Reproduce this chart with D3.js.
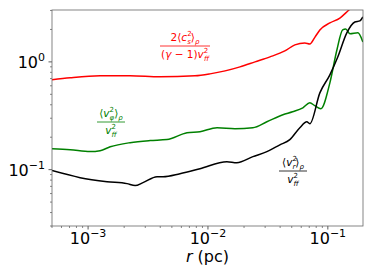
<!DOCTYPE html>
<html>
<head>
<meta charset="utf-8">
<script src="https://cdn.jsdelivr.net/npm/d3@7"></script>
<style>
  body { margin: 0; background: #fff; }
  svg { font-family: "DejaVu Sans", sans-serif; }
</style>
</head>
<body>
<svg id="chart" width="374" height="280"></svg>
<script>
// thermal term 2<cs^2>/((gamma-1) vff^2)
var redR = [5e-4, 7.1e-4, 1.26e-3, 2.24e-3, 3.98e-3, 7.79e-3, 1.04e-2, 1.39e-2, 1.85e-2, 2.47e-2, 3.29e-2, 4.38e-2, 5.31e-2, 6.43e-2, 7.08e-2, 7.79e-2, 8.58e-2, 0.104, 0.126, 0.15, 0.168];
var redV = [0.681, 0.711, 0.742, 0.742, 0.726, 0.742, 0.774, 0.825, 0.899, 1.0, 1.112, 1.264, 1.437, 1.50, 1.468, 1.69, 1.98, 2.30, 2.55, 3.03, 3.37];

// rotational term <v_phi^2>/vff^2
var greenR = [5e-4, 7.1e-4, 1.04e-3, 1.26e-3, 1.53e-3, 2.24e-3, 3.29e-3, 4.55e-3, 6.69e-3, 8.58e-3, 1.19e-2, 1.68e-2, 2.37e-2, 3.1e-2, 4.22e-2, 5.08e-2, 6.19e-2, 7.08e-2, 7.79e-2, 8.74e-2, 0.104, 0.119, 0.133, 0.141, 0.153, 0.178, 0.196];
var greenV = [0.1565, 0.153, 0.147, 0.150, 0.163, 0.178, 0.186, 0.19, 0.22, 0.225, 0.245, 0.24, 0.245, 0.278, 0.323, 0.344, 0.375, 0.417, 0.392, 0.367, 0.639, 1.29, 1.98, 2.02, 1.82, 1.86, 1.53];

// radial term <v_r^2>/vff^2
var blackR = [5e-4, 8.58e-4, 1.44e-3, 2.11e-3, 2.47e-3, 2.87e-3, 3.76e-3, 4.22e-3, 5.84e-3, 8.58e-3, 1.44e-2, 1.74e-2, 2.37e-2, 3.1e-2, 3.98e-2, 4.82e-2, 5.84e-2, 6.68e-2, 7.08e-2, 8.58e-2, 0.104, 0.121, 0.144, 0.168, 0.185, 0.196];
var blackV = [0.098, 0.0843, 0.0774, 0.0742, 0.0711, 0.0758, 0.0861, 0.0861, 0.0918, 0.102, 0.1187, 0.116, 0.132, 0.147, 0.170, 0.19, 0.245, 0.278, 0.267, 0.516, 0.758, 1.11, 1.86, 2.345, 2.4, 2.61];

var xTicks = [1e-3, 1e-2, 1e-1];
var xTickExp = ["\u22123", "\u22122", "\u22121"];
var yTicks = [1e-1, 1];
var yTickExp = ["\u22121", "0"];

var svg = d3.select("#chart");
var margin = { top: 10, right: 11, bottom: 54, left: 52 };
var width = 374 - margin.left - margin.right;
var height = 280 - margin.top - margin.bottom;

var x = d3.scaleLog().domain([5e-4, 0.1965]).range([0, width]);
var y = d3.scaleLog().domain([0.0300, 3.03]).range([height, 0]);

var g = svg.append("g")
  .attr("transform", "translate(" + margin.left + "," + margin.top + ")");

svg.append("defs").append("clipPath").attr("id", "clip")
  .append("rect").attr("width", width).attr("height", height);

// minor ticks
var xMinor = [];
[1e-4, 1e-3, 1e-2, 1e-1].forEach(function (d) {
  for (var k = 2; k <= 9; k++) {
    var v = d * k;
    if (v >= x.domain()[0] && v <= x.domain()[1]) xMinor.push(v);
  }
});
var yMinor = [];
[1e-2, 1e-1, 1].forEach(function (d) {
  for (var k = 2; k <= 9; k++) {
    var v = d * k;
    if (v >= y.domain()[0] && v <= y.domain()[1]) yMinor.push(v);
  }
});

g.selectAll(".xminor").data(xMinor).enter().append("line")
  .attr("x1", d => x(d)).attr("x2", d => x(d))
  .attr("y1", height).attr("y2", height + 2)
  .attr("stroke", "#333").attr("stroke-width", 0.6);
g.selectAll(".yminor").data(yMinor).enter().append("line")
  .attr("y1", d => y(d)).attr("y2", d => y(d))
  .attr("x1", 0).attr("x2", -2)
  .attr("stroke", "#333").attr("stroke-width", 0.6);

g.selectAll(".xmajor").data(xTicks).enter().append("line")
  .attr("x1", d => x(d)).attr("x2", d => x(d))
  .attr("y1", height).attr("y2", height + 3.5)
  .attr("stroke", "#333").attr("stroke-width", 0.8);
g.selectAll(".ymajor").data(yTicks).enter().append("line")
  .attr("y1", d => y(d)).attr("y2", d => y(d))
  .attr("x1", 0).attr("x2", -3.5)
  .attr("stroke", "#333").attr("stroke-width", 0.8);

// tick labels
var xl = g.selectAll(".xlab").data(xTicks).enter().append("text")
  .attr("x", d => x(d)).attr("y", height + 18)
  .attr("text-anchor", "middle").attr("font-size", 16).attr("fill", "#000");
xl.append("tspan").text("10");
xl.append("tspan").attr("dy", -7).attr("font-size", 11).text((d, i) => xTickExp[i]);

var yl = g.selectAll(".ylab").data(yTicks).enter().append("text")
  .attr("x", -7).attr("y", d => y(d) + 6)
  .attr("text-anchor", "end").attr("font-size", 16).attr("fill", "#000");
yl.append("tspan").text("10");
yl.append("tspan").attr("dy", -7).attr("font-size", 11).text((d, i) => yTickExp[i]);

// x label
var xt = svg.append("text")
  .attr("x", margin.left + width / 2).attr("y", 262)
  .attr("text-anchor", "middle").attr("font-size", 16);
xt.append("tspan").attr("font-style", "italic").text("r");
xt.append("tspan").text(" (pc)");

// curves
var line = d3.line().x(d => x(d[0])).y(d => y(d[1])).curve(d3.curveMonotoneX);
var series = [
  { r: redR, v: redV, color: "#ff0000" },
  { r: greenR, v: greenV, color: "#008000" },
  { r: blackR, v: blackV, color: "#000000" }
];
series.forEach(function (s) {
  g.append("path")
    .datum(s.r.map((r, i) => [r, s.v[i]]))
    .attr("clip-path", "url(#clip)")
    .attr("fill", "none")
    .attr("stroke", s.color)
    .attr("stroke-width", 1.5)
    .attr("d", line);
});

// frame
g.append("rect").attr("width", width).attr("height", height)
  .attr("fill", "none").attr("stroke", "#666").attr("stroke-width", 0.8);

// fraction annotations
function fraction(cx, lineY, color, numParts, denParts, lineW) {
  var a = svg.append("g").attr("fill", color).attr("font-size", 10.5);
  function build(parts, yy) {
    var t = a.append("text").attr("x", cx).attr("y", yy).attr("text-anchor", "middle");
    parts.forEach(function (p) {
      var ts = t.append("tspan").text(p.t);
      if (p.fs) ts.attr("font-size", p.fs);
      if (p.dy) ts.attr("dy", p.dy);
      if (p.dx) ts.attr("dx", p.dx);
      if (p.it) ts.attr("font-style", "italic");
    });
  }
  build(numParts, lineY - 5);
  build(denParts, lineY + 12);
  a.append("line").attr("x1", cx - lineW / 2).attr("x2", cx + lineW / 2)
    .attr("y1", lineY).attr("y2", lineY).attr("stroke", color).attr("stroke-width", 0.8);
}

fraction(185, 46, "#ff0000",
  [{ t: "2\u27e8" }, { t: "c", it: 1 }, { t: "2", fs: 7, dy: -5 }, { t: "s", fs: 7, dy: 8, dx: -4.4, it: 1 }, { t: "\u27e9", dy: -3 }, { t: "\u03c1", fs: 7, dy: 3, it: 1 }],
  [{ t: "(" }, { t: "\u03b3", it: 1 }, { t: " \u2212 1)" }, { t: "v", it: 1 }, { t: "2", fs: 7, dy: -5 }, { t: "ff", fs: 7, dy: 8, dx: -4.4, it: 1 }],
  50);

fraction(111, 122, "#008000",
  [{ t: "\u27e8" }, { t: "v", it: 1 }, { t: "2", fs: 7, dy: -5 }, { t: "\u03c6", fs: 7, dy: 8, dx: -4.4, it: 1 }, { t: "\u27e9", dy: -3 }, { t: "\u03c1", fs: 7, dy: 3, it: 1 }],
  [{ t: "v", it: 1 }, { t: "2", fs: 7, dy: -5 }, { t: "ff", fs: 7, dy: 8, dx: -4.4, it: 1 }],
  28);

fraction(293, 171, "#000000",
  [{ t: "\u27e8" }, { t: "v", it: 1 }, { t: "2", fs: 7, dy: -5 }, { t: "r", fs: 7, dy: 8, dx: -4.4, it: 1 }, { t: "\u27e9", dy: -3 }, { t: "\u03c1", fs: 7, dy: 3, it: 1 }],
  [{ t: "v", it: 1 }, { t: "2", fs: 7, dy: -5 }, { t: "ff", fs: 7, dy: 8, dx: -4.4, it: 1 }],
  28);
</script>
</body>
</html>
